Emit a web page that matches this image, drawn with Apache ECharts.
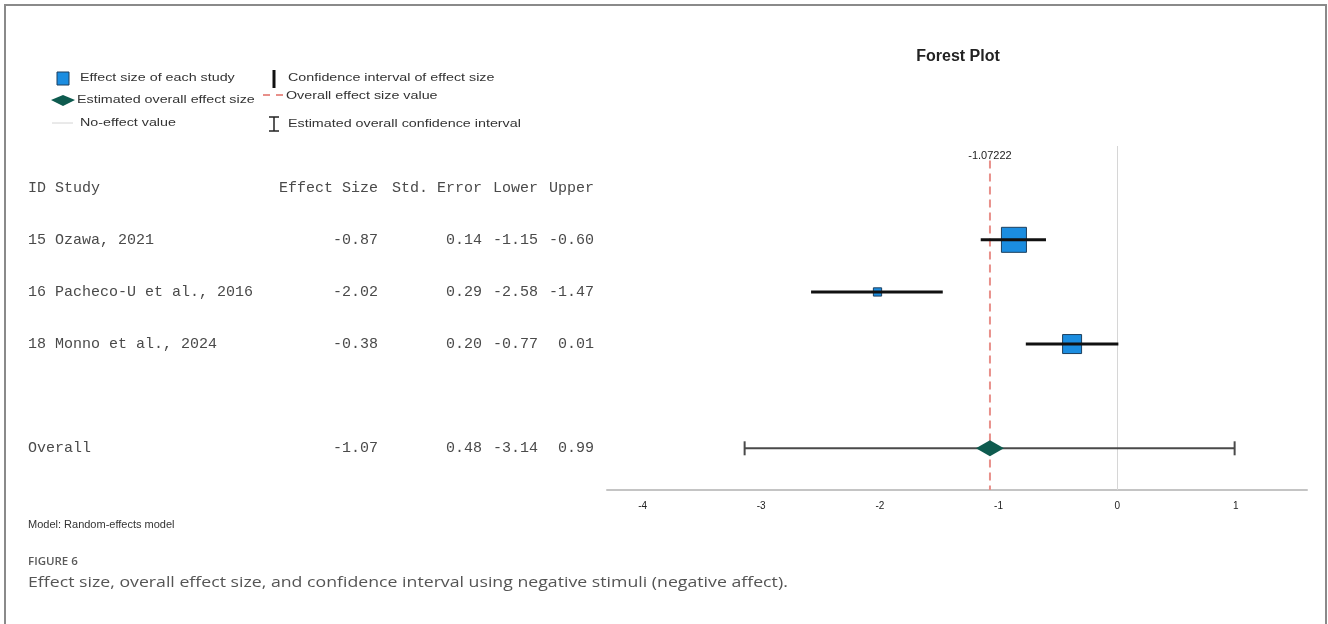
<!DOCTYPE html>
<html>
<head>
<meta charset="utf-8">
<title>Forest Plot</title>
<script src="https://cdn.jsdelivr.net/npm/echarts@6/dist/echarts.min.js"></script>
<style>
  html, body { margin: 0; padding: 0; background: #fff; }
  #chart { width: 1328px; height: 624px; }
</style>
</head>
<body>
<div id="chart"></div>
<script>
// study table
const studyIds = ['15', '16', '18'];
const studyNames = ['Ozawa, 2021', 'Pacheco-U et al., 2016', 'Monno et al., 2024'];
const effectSize = [-0.87, -2.02, -0.38];
const stdError = [0.14, 0.29, 0.20];
const lowerCI = [-1.15, -2.58, -0.77];
const upperCI = [-0.60, -1.47, 0.01];
// relative square size (weight), largest = 100
const studyWeight = [100, 33, 76];
const studyRow = [1, 2, 3];

// overall (random-effects) row
const overallLabel = 'Overall';
const overallStats = [-1.07, 0.48, -3.14, 0.99]; // effect, se, lower, upper
const overallEstimate = -1.07222;
const overallRow = 5;

const headerRow = 0;
const headerCols = ['Effect Size', 'Std. Error', 'Lower', 'Upper'];
const noEffectValue = 0;
const xTicks = [-4, -3, -2, -1, 0, 1];

const chart = echarts.init(document.getElementById('chart'));

// x pixel positions of table columns (left of the plot)
const colLeft = 28;
const colRight = [378, 482, 538, 594];
const monoFont = '15px "Liberation Mono", "Courier New", monospace';
const textColor = '#4a4a4a';

// table rows built from the arrays
const tableRows = [];
tableRows.push({ row: headerRow, cells: ['ID Study'].concat(headerCols) });
studyIds.forEach((id, i) => {
  tableRows.push({
    row: studyRow[i],
    cells: [id + ' ' + studyNames[i], effectSize[i].toFixed(2), stdError[i].toFixed(2),
      lowerCI[i].toFixed(2), upperCI[i].toFixed(2)]
  });
});
tableRows.push({ row: overallRow, cells: [overallLabel].concat(overallStats.map(v => v.toFixed(2))) });

const squareData = effectSize.map((v, i) => [v, studyRow[i], studyWeight[i]]);
const ciData = studyRow.map((r, i) => [lowerCI[i], upperCI[i], r, 0]);
ciData.push([overallStats[2], overallStats[3], overallRow, 1]);

// 图例（手工绘制），原图文字横向偏宽，用 scaleX 拉伸
const legendFont = '11px Arial, "Liberation Sans", sans-serif';
const legendColor = '#333';
const legendScale = 1.3;
function legendText(x, y, text) {
  return { type: 'text', x, y, scaleX: legendScale, style: { text, font: legendFont, fill: legendColor, verticalAlign: 'middle' } };
}
const legendGraphics = [
  { type: 'rect', shape: { x: 57, y: 72, width: 12, height: 13 }, style: { fill: '#1b8de0', stroke: '#1d3f5e', lineWidth: 1 } },
  legendText(80, 78, 'Effect size of each study'),
  { type: 'polygon', shape: { points: [[51, 100], [63, 95], [75, 100], [63, 106]] }, style: { fill: '#0e5b4f' } },
  legendText(77, 100, 'Estimated overall effect size'),
  { type: 'line', shape: { x1: 52, y1: 123, x2: 73, y2: 123 }, style: { stroke: '#d4d4d4', lineWidth: 1 } },
  legendText(80, 123, 'No-effect value'),
  { type: 'line', shape: { x1: 274, y1: 70, x2: 274, y2: 88 }, style: { stroke: '#111', lineWidth: 3 } },
  legendText(288, 78, 'Confidence interval of effect size'),
  { type: 'line', shape: { x1: 263, y1: 95, x2: 283, y2: 95 }, style: { stroke: '#e8908a', lineWidth: 2, lineDash: [7, 6] } },
  legendText(286, 96, 'Overall effect size value'),
  { type: 'line', shape: { x1: 274, y1: 117, x2: 274, y2: 131 }, style: { stroke: '#222', lineWidth: 1.5 } },
  { type: 'line', shape: { x1: 269, y1: 117, x2: 279, y2: 117 }, style: { stroke: '#222', lineWidth: 1.5 } },
  { type: 'line', shape: { x1: 269, y1: 131, x2: 279, y2: 131 }, style: { stroke: '#222', lineWidth: 1.5 } },
  legendText(288, 124, 'Estimated overall confidence interval')
];

const option = {
  animation: false,
  backgroundColor: '#ffffff',
  grid: { left: 607, right: 21, top: 146, bottom: 134 },
  xAxis: {
    type: 'value',
    min: -4.3,
    max: 1.6,
    splitLine: { show: false },
    axisTick: { show: false },
    axisLine: { onZero: false, lineStyle: { color: '#c4c4c4', width: 2 } },
    axisLabel: {
      customValues: xTicks,
      color: '#222',
      fontSize: 10,
      fontFamily: 'Arial, "Liberation Sans", sans-serif',
      margin: 11
    }
  },
  yAxis: {
    type: 'value',
    inverse: true,
    min: -0.8,
    max: 5.8,
    show: false
  },
  graphic: [
    // 外框
    { type: 'polyline', shape: { points: [[5, 624], [5, 5], [1326, 5], [1326, 624]] }, style: { stroke: '#8a8a8a', lineWidth: 2, fill: null } },
    { type: 'text', x: 958, y: 57, style: { text: 'Forest Plot', font: 'bold 16px Arial, "Liberation Sans", sans-serif', fill: '#222', align: 'center', verticalAlign: 'middle' } },
    { type: 'text', x: 28, y: 525, style: { text: 'Model: Random-effects model', font: '11px Arial, "Liberation Sans", sans-serif', fill: '#333', verticalAlign: 'middle' } },
    { type: 'text', x: 28, y: 562, style: { text: 'FIGURE 6', font: '600 11.5px "Open Sans", sans-serif', fill: '#5a5a5a', verticalAlign: 'middle' } },
    { type: 'text', x: 28, y: 583, scaleX: 1.18, style: { text: 'Effect size, overall effect size, and confidence interval using negative stimuli (negative affect).', font: '15px "Open Sans", sans-serif', fill: '#555', verticalAlign: 'middle' } }
  ].concat(legendGraphics),
  series: [
    {
      // 无效应线
      type: 'scatter',
      data: [],
      markLine: {
        silent: true,
        symbol: 'none',
        label: { show: false },
        lineStyle: { color: '#d6d6d6', width: 1, type: 'solid' },
        data: [{ xAxis: noEffectValue }]
      }
    },
    {
      // 合并效应虚线
      type: 'custom',
      clip: false,
      z: 3,
      data: [[overallEstimate]],
      renderItem(params, api) {
        const top = api.coord([api.value(0), -0.52]);
        const bottom = api.coord([api.value(0), 5.8]);
        return {
          type: 'group',
          children: [
            { type: 'line', shape: { x1: top[0], y1: top[1], x2: bottom[0], y2: bottom[1] }, style: { stroke: '#e8908a', lineWidth: 2, lineDash: [8, 5] } },
            { type: 'text', x: top[0], y: top[1] + 1, style: { text: String(overallEstimate), font: '11px Arial, "Liberation Sans", sans-serif', fill: '#222', align: 'center', verticalAlign: 'bottom' } }
          ]
        };
      }
    },
    {
      // 各研究效应量方块
      type: 'scatter',
      z: 4,
      data: squareData,
      symbol: 'rect',
      symbolSize: d => Math.max(8, 25 * d[2] / 100),
      itemStyle: { color: '#1b8de0', borderColor: '#1d3f5e', borderWidth: 1, opacity: 1 }
    },
    {
      // 置信区间
      type: 'custom',
      z: 5,
      clip: false,
      data: ciData,
      renderItem(params, api) {
        const a = api.coord([api.value(0), api.value(2)]);
        const b = api.coord([api.value(1), api.value(2)]);
        if (api.value(3) === 1) {
          const cap = 7;
          const st = { stroke: '#4a4a4a', lineWidth: 2 };
          return {
            type: 'group',
            children: [
              { type: 'line', shape: { x1: a[0], y1: a[1], x2: b[0], y2: b[1] }, style: st },
              { type: 'line', shape: { x1: a[0], y1: a[1] - cap, x2: a[0], y2: a[1] + cap }, style: st },
              { type: 'line', shape: { x1: b[0], y1: b[1] - cap, x2: b[0], y2: b[1] + cap }, style: st }
            ]
          };
        }
        return { type: 'line', shape: { x1: a[0], y1: a[1], x2: b[0], y2: b[1] }, style: { stroke: '#111', lineWidth: 3 } };
      }
    },
    {
      // 合并效应菱形
      type: 'scatter',
      z: 6,
      data: [[overallEstimate, overallRow]],
      symbol: 'diamond',
      symbolSize: [28, 16],
      itemStyle: { color: '#0e5b4f', opacity: 1 }
    },
    {
      // 左侧表格文字
      type: 'custom',
      clip: false,
      silent: true,
      data: tableRows.map(r => [r.row]),
      renderItem(params, api) {
        const y = api.coord([0, api.value(0)])[1];
        const cells = tableRows[params.dataIndex].cells;
        const children = cells.map((txt, c) => ({
          type: 'text',
          x: c === 0 ? colLeft : colRight[c - 1],
          y: y,
          style: {
            text: txt,
            font: monoFont,
            fill: textColor,
            align: c === 0 ? 'left' : 'right',
            verticalAlign: 'middle'
          }
        }));
        return { type: 'group', children };
      }
    }
  ]
};

chart.setOption(option);
</script>
</body>
</html>
